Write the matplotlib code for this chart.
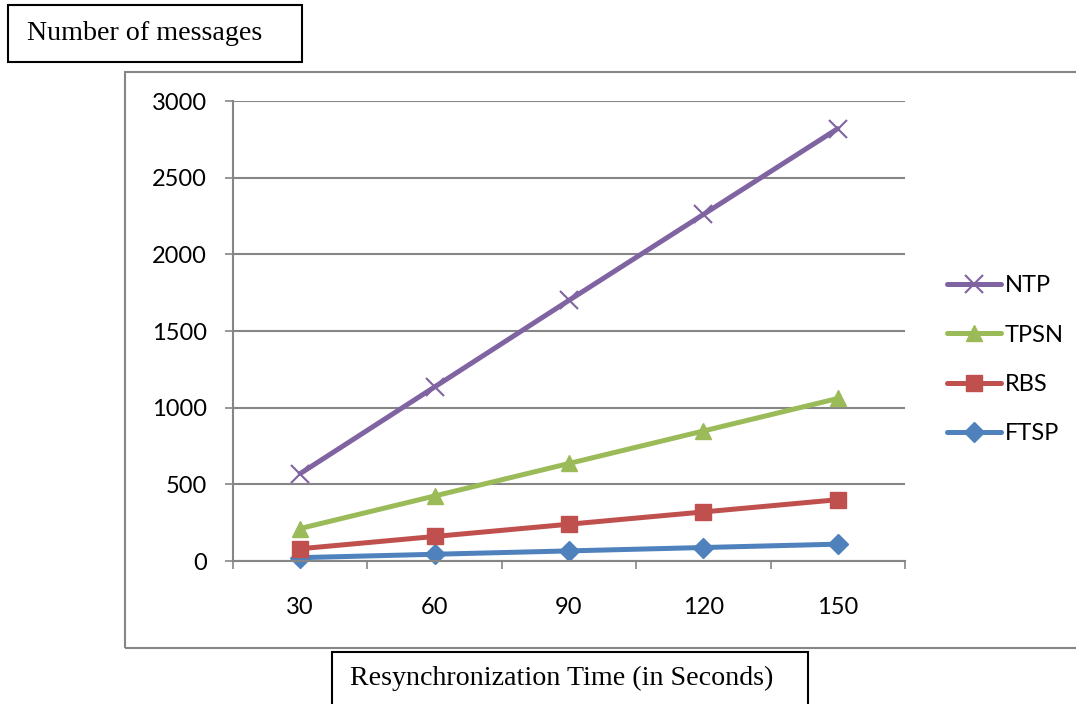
import matplotlib
matplotlib.use("Agg")
import matplotlib.pyplot as plt
from matplotlib.patches import Rectangle

# --- dane ---
resync_times = ["30", "60", "90", "120", "150"]
ftsp = [22, 44, 66, 88, 110]
rbs = [80, 160, 240, 320, 400]
tpsn = [212, 424, 636, 848, 1060]
ntp = [570, 1135, 1700, 2260, 2820]
y_ticks = [0, 500, 1000, 1500, 2000, 2500, 3000]

series_names = ["FTSP", "RBS", "TPSN", "NTP"]
series_vals = [ftsp, rbs, tpsn, ntp]
colors = ["#4F81BD", "#C0504D", "#9BBB59", "#8064A2"]
markers = ["D", "s", "^", "x"]
msizes = [10, 11, 12, 13]
medge = [1, 1, 1, 1.5]

tick_font = "Lato"
box_font = "Liberation Serif"
grid_col = "#868686"

fig = plt.figure(figsize=(10.76, 7.04), dpi=100)
ax = fig.add_axes([0.2165, 0.2031, 0.6245, 0.6534])

x = list(range(len(resync_times)))
for name, vals, c, m, ms, me in zip(series_names, series_vals, colors, markers, msizes, medge):
    ax.plot(x, vals, color=c, lw=3.6, marker=m, ms=ms, mew=me,
            mfc=c, mec=c, label=name, solid_capstyle="round", clip_on=False)

ax.set_xlim(-0.5, len(resync_times) - 0.5)
ax.set_ylim(0, 3000)
ax.set_yticks(y_ticks)
ax.set_yticklabels([str(v) for v in y_ticks], fontfamily=tick_font, fontsize=17)
ax.set_xticks(x)
ax.set_xticklabels(resync_times, fontfamily=tick_font, fontsize=17)
ax.set_xticks([i - 0.5 for i in range(len(resync_times) + 1)], minor=True)

ax.tick_params(axis="x", which="major", length=0, pad=26)
ax.tick_params(axis="x", which="minor", length=6, width=1.2, color=grid_col)
ax.tick_params(axis="y", length=6, width=1.2, color=grid_col, pad=13)

ax.grid(axis="y", color=grid_col, lw=1.5)
ax.set_axisbelow(True)
for s in ["top", "right"]:
    ax.spines[s].set_visible(False)
for s in ["left", "bottom"]:
    ax.spines[s].set_color(grid_col)
    ax.spines[s].set_linewidth(1.5)

# legenda (odwrocona kolejnosc)
h, l = ax.get_legend_handles_labels()
leg = fig.legend(h[::-1], l[::-1], loc="center left", bbox_to_anchor=(0.871, 0.489),
                 frameon=False, prop={"family": tick_font, "size": 17},
                 handlelength=2.3, handletextpad=0.15, labelspacing=1.2, borderaxespad=0)

# ramka wykresu
fig.add_artist(Rectangle((0.1162, 0.0795), 0.95, 0.8182, transform=fig.transFigure,
                         fill=False, ec=grid_col, lw=1.5))

# pola tekstowe
fig.add_artist(Rectangle((8 / 1076, 1 - 62 / 704), 294 / 1076, 57 / 704,
                         transform=fig.transFigure, fill=False, ec="black", lw=1.5))
fig.text(145 / 1076, 1 - 34 / 704, "Number of messages", ha="center", va="center",
         fontfamily=box_font, fontsize=20.2)

fig.add_artist(Rectangle((332 / 1076, -0.05), 476 / 1076, 0.05 + 52 / 704,
                         transform=fig.transFigure, fill=False, ec="black", lw=1.5))
fig.text(562 / 1076, 1 - 678 / 704, "Resynchronization Time (in Seconds)", ha="center",
         va="center", fontfamily=box_font, fontsize=20.2)

fig.savefig("out.png", dpi=100)
